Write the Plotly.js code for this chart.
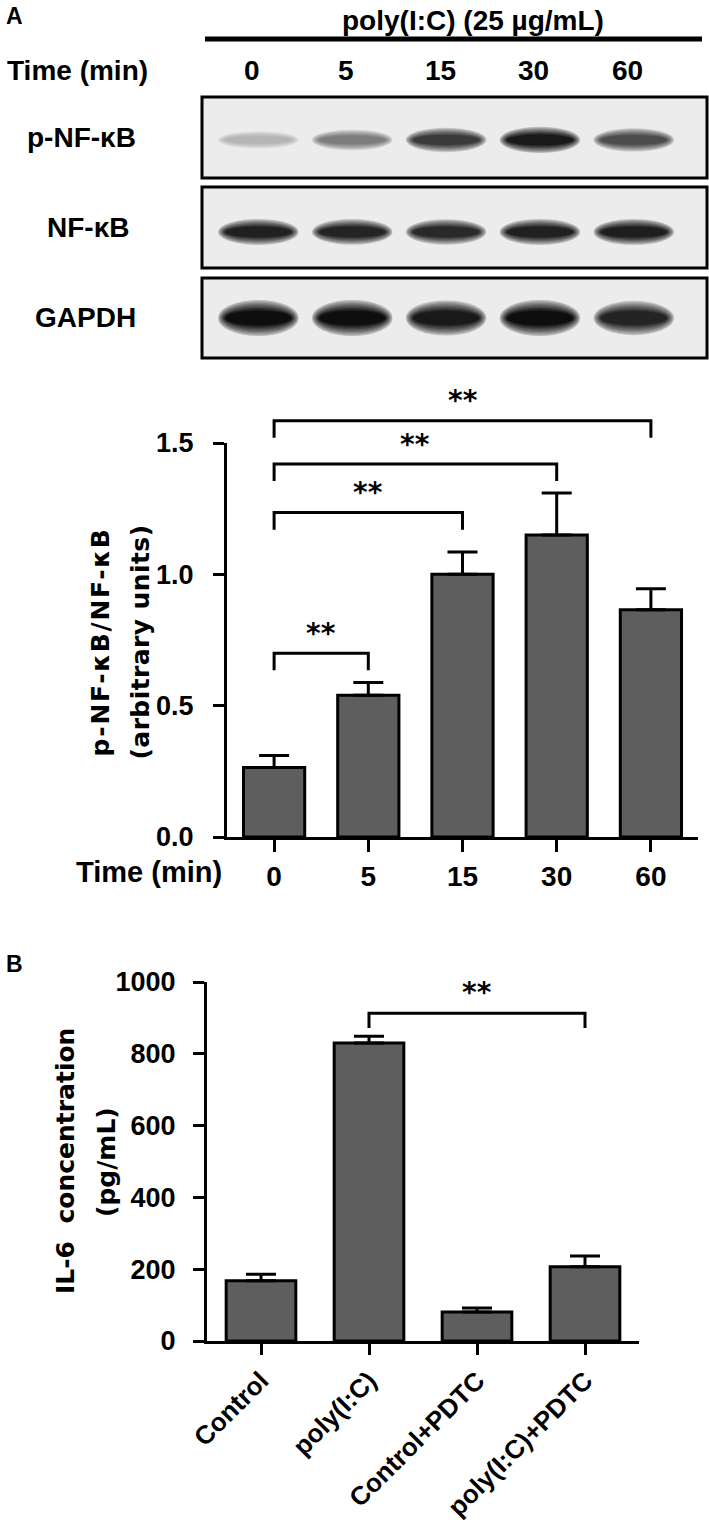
<!DOCTYPE html>
<html><head><meta charset="utf-8">
<script src="https://cdn.plot.ly/plotly-3.0.1.min.js"></script>
<style>html,body{margin:0;padding:0;background:#fff;} #chart{width:709px;height:1523px;}</style>
</head><body><div id="chart"></div>
<script>
// ---------------- data ----------------
const laneLabels = ['0', '5', '15', '30', '60'];
const blotRows = ['p-NF-κB', 'NF-κB', 'GAPDH'];
const pNFkBBand = [0.25, 0.5, 0.8, 0.95, 0.72];   // relative band darkness
const NFkBBand  = [0.92, 0.9, 0.88, 0.92, 0.93];
const GAPDHBand = [1.0, 1.0, 0.95, 1.0, 0.9];

const timeCats  = ['0', '5', '15', '30', '60'];
const ratioMean = [0.265, 0.54, 1.0, 1.15, 0.865];
const ratioSEM  = [0.045, 0.048, 0.085, 0.16, 0.08];
const ratioPairs = [[0, 4], [0, 3], [0, 2], [0, 1]];
const ratioBracketY = [1.585, 1.42, 1.235, 0.70];
const ratioSig = ['**', '**', '**', '**'];

const il6Cats = ['Control', 'poly(I:C)', 'Control+PDTC', 'poly(I:C)+PDTC'];
const il6Mean = [168, 830, 81, 207];
const il6SEM  = [18, 19, 11, 30];
const il6Pairs = [[1, 3]];
const il6BracketY = [913];
const il6Sig = ['**'];

// ---------------- helpers ----------------
const W = 709, H = 1523;
const px = x => x / W;
const py = y => 1 - y / H;
const FONT = '"Liberation Sans", Arial, Helvetica, sans-serif';
const WIDE = '"DejaVu Sans", "Liberation Sans", sans-serif';
const f = (size) => ({family: FONT, size: size, color: '#000', weight: 'bold'});
const fw = (size) => ({family: WIDE, size: size, color: '#000', weight: 'bold'});
const BAR = '#5e5e5e';

const traces = [];
const shapes = [];
const annotations = [];

// ---------------- Panel A : blots ----------------
const blotData = [pNFkBBand, NFkBBand, GAPDHBand];
const blotBoxes = [[97, 178], [187, 268], [278, 358]];
const bandCenter = [0.47, 0.445, 0.5];
const rowScale = [1.0, 1.0, 1.35];
const rowLabelX = [81, 88, 85];
const lanes = laneLabels.map((_, i) => i);
const blotAxes = [['x2', 'y2'], ['x3', 'y3'], ['x4', 'y4']];
const NL = 9;

blotData.forEach((band, r) => {
  const [xa, ya] = blotAxes[r];
  shapes.push({type: 'rect', xref: xa + ' domain', yref: ya + ' domain', x0: 0, x1: 1, y0: 0, y1: 1,
    fillcolor: '#ececec', line: {color: '#000', width: 3}, layer: 'above'});
  const bg = 236;
  band.forEach((d, i) => {
    const tOuter = (15 + 14 * d) * rowScale[r] / 81;
    for (let k = 0; k < NL; k++) {
      const fr = (k + 1) / NL;
      const g = Math.round(bg - Math.pow(fr, 0.7) * d * 222);
      const w = 0.88 * (1 - 0.2 * fr);
      const t = tOuter * (1 - 0.62 * fr);
      shapes.push({type: 'circle', xref: xa, yref: ya,
        x0: lanes[i] - w / 2, x1: lanes[i] + w / 2,
        y0: bandCenter[r] - t / 2, y1: bandCenter[r] + t / 2,
        fillcolor: `rgb(${g},${g},${g})`, line: {width: 0}, layer: 'above'});
    }
  });
  annotations.push({xref: 'paper', yref: 'paper', x: px(rowLabelX[r]), y: py((blotBoxes[r][0] + blotBoxes[r][1]) / 2),
    text: blotRows[r], showarrow: false, font: f(28), xanchor: 'center', yanchor: 'middle'});
});

// header
annotations.push({xref: 'paper', yref: 'paper', x: px(14), y: py(16), text: 'A', showarrow: false, font: f(23), xanchor: 'center', yanchor: 'middle'});
annotations.push({xref: 'paper', yref: 'paper', x: px(473), y: py(20), text: 'poly(I:C) (25 µg/mL)', showarrow: false, font: f(28), xanchor: 'center', yanchor: 'middle'});
shapes.push({type: 'line', xref: 'paper', yref: 'paper', x0: px(205), x1: px(702), y0: py(39), y1: py(39), line: {color: '#000', width: 5}});
annotations.push({xref: 'paper', yref: 'paper', x: px(77), y: py(71), text: 'Time (min)', showarrow: false, font: f(28), xanchor: 'center', yanchor: 'middle'});
laneLabels.forEach((t, i) => {
  annotations.push({xref: 'x2', yref: 'paper', x: lanes[i], xshift: -6, y: py(71), text: t, showarrow: false, font: f(28), xanchor: 'center', yanchor: 'middle'});
});

// ---------------- Panel A : bar chart ----------------
traces.push({type: 'bar', x: timeCats.map((_, i) => i), y: ratioMean, width: 0.65, xaxis: 'x', yaxis: 'y',
  marker: {color: BAR, line: {color: '#000', width: 3}},
  error_y: {type: 'data', symmetric: false, array: ratioSEM, arrayminus: ratioSEM.map(() => 0), color: '#000', thickness: 3, width: 15},
  hoverinfo: 'skip', showlegend: false});

// a second, invisible y axis with the same scale but a taller domain, so the brackets are not clipped
const yA0 = 837, yA1 = 443, yA6 = 375;
const y6Top = 1.5 * (yA0 - yA6) / (yA0 - yA1);

const legA = 0.065;
ratioPairs.forEach(([a, b], k) => {
  const h = ratioBracketY[k];
  traces.push({type: 'scatter', mode: 'lines', x: [a, a, b, b], y: [h - legA, h, h, h - legA], xaxis: 'x', yaxis: 'y6',
    line: {color: '#000', width: 3}, cliponaxis: false, hoverinfo: 'skip', showlegend: false});
  annotations.push({xref: 'x', yref: 'y6', x: (a + b) / 2, y: h, yshift: 20, text: ratioSig[k], showarrow: false,
    font: fw(28), xanchor: 'center', yanchor: 'middle'});
});
annotations.push({xref: 'paper', yref: 'paper', x: px(224), y: py(872), text: 'Time (min)', showarrow: false, font: f(29), xanchor: 'right', yanchor: 'middle'});
annotations.push({xref: 'paper', yref: 'paper', x: px(100), y: py(642), text: 'p-NF-κB/NF-κB', textangle: -90, showarrow: false, font: fw(25), xanchor: 'center', yanchor: 'middle'});
annotations.push({xref: 'paper', yref: 'paper', x: px(140), y: py(642), text: '(arbitrary units)', textangle: -90, showarrow: false, font: fw(25), xanchor: 'center', yanchor: 'middle'});

// ---------------- Panel B ----------------
traces.push({type: 'bar', x: il6Cats.map((_, i) => i), y: il6Mean, width: 0.645, xaxis: 'x5', yaxis: 'y5',
  marker: {color: BAR, line: {color: '#000', width: 3}},
  error_y: {type: 'data', symmetric: false, array: il6SEM, arrayminus: il6SEM.map(() => 0), color: '#000', thickness: 3, width: 15},
  hoverinfo: 'skip', showlegend: false});
const legB = 41;
il6Pairs.forEach(([a, b], k) => {
  const h = il6BracketY[k];
  traces.push({type: 'scatter', mode: 'lines', x: [a, a, b, b], y: [h - legB, h, h, h - legB], xaxis: 'x5', yaxis: 'y5',
    line: {color: '#000', width: 3}, cliponaxis: false, hoverinfo: 'skip', showlegend: false});
  annotations.push({xref: 'x5', yref: 'y5', x: (a + b) / 2, y: h, yshift: 21, text: il6Sig[k], showarrow: false,
    font: fw(28), xanchor: 'center', yanchor: 'middle'});
});
annotations.push({xref: 'paper', yref: 'paper', x: px(14), y: py(964), text: 'B', showarrow: false, font: f(23), xanchor: 'center', yanchor: 'middle'});
annotations.push({xref: 'paper', yref: 'paper', x: px(65), y: py(1161), text: 'IL-6\u00a0 concentration', textangle: -90, showarrow: false, font: fw(25), xanchor: 'center', yanchor: 'middle'});
annotations.push({xref: 'paper', yref: 'paper', x: px(106), y: py(1162), text: '(pg/mL)', textangle: -90, showarrow: false, font: fw(25), xanchor: 'center', yanchor: 'middle'});

// ---------------- axes ----------------
const hidden = {visible: false, fixedrange: true};
const blotX = {domain: [px(202), px(707)], range: [-0.6, 4.78]};
const baseAx = {showline: true, linecolor: '#000', linewidth: 3, ticks: 'outside', tickwidth: 3, tickcolor: '#000',
  showgrid: false, zeroline: false, fixedrange: true};

const layout = {
  width: W, height: H, margin: {l: 0, r: 0, t: 0, b: 0},
  paper_bgcolor: '#fff', plot_bgcolor: 'rgba(0,0,0,0)', showlegend: false,
  font: {family: FONT, color: '#000'},
  xaxis: Object.assign({}, baseAx, {domain: [px(227), px(698)], range: [-0.5, 4.5], anchor: 'y',
    tickvals: timeCats.map((_, i) => i), ticktext: timeCats, ticklen: 12, tickfont: f(28)}),
  yaxis: Object.assign({}, baseAx, {domain: [py(yA0), py(yA1)], range: [0, 1.5], anchor: 'x',
    tickvals: [0, 0.5, 1.0, 1.5], tickformat: '.1f', ticklen: 11, tickfont: f(27), ticklabelstandoff: 14}),
  yaxis6: Object.assign({}, hidden, {domain: [py(yA0), py(yA6)], range: [0, y6Top], anchor: 'x'}),
  xaxis2: Object.assign({}, hidden, blotX, {anchor: 'y2'}),
  yaxis2: Object.assign({}, hidden, {domain: [py(178), py(97)], range: [0, 1], anchor: 'x2'}),
  xaxis3: Object.assign({}, hidden, blotX, {anchor: 'y3'}),
  yaxis3: Object.assign({}, hidden, {domain: [py(268), py(187)], range: [0, 1], anchor: 'x3'}),
  xaxis4: Object.assign({}, hidden, blotX, {anchor: 'y4'}),
  yaxis4: Object.assign({}, hidden, {domain: [py(358), py(278)], range: [0, 1], anchor: 'x4'}),
  xaxis5: Object.assign({}, baseAx, {domain: [px(207), px(639)], range: [-0.5, 3.5], anchor: 'y5',
    tickvals: il6Cats.map((_, i) => i), ticktext: il6Cats, ticklen: 11, tickangle: -45, tickfont: f(26)}),
  yaxis5: Object.assign({}, baseAx, {domain: [py(1341), py(982)], range: [0, 1000], anchor: 'x5',
    tickvals: [0, 200, 400, 600, 800, 1000], ticklen: 11, tickfont: f(27), ticklabelstandoff: 12}),
  shapes: shapes,
  annotations: annotations
};

const rotTargets = {'p-NF-κB/NF-κB': 229, '(arbitrary units)': 235, 'IL-6\u00a0 concentration': 265, '(pg/mL)': 103};

Plotly.newPlot('chart', traces, layout, {staticPlot: true, displayModeBar: false}).then(() => {
  document.querySelectorAll('#chart .annotation-text').forEach(el => {
    const t = el.textContent;
    if (rotTargets[t]) {
      const len = el.getComputedTextLength();
      const sp = (rotTargets[t] - len) / t.length;
      if (sp > 0) el.style.letterSpacing = sp.toFixed(2) + 'px';
    }
  });
});
</script>
</body></html>
